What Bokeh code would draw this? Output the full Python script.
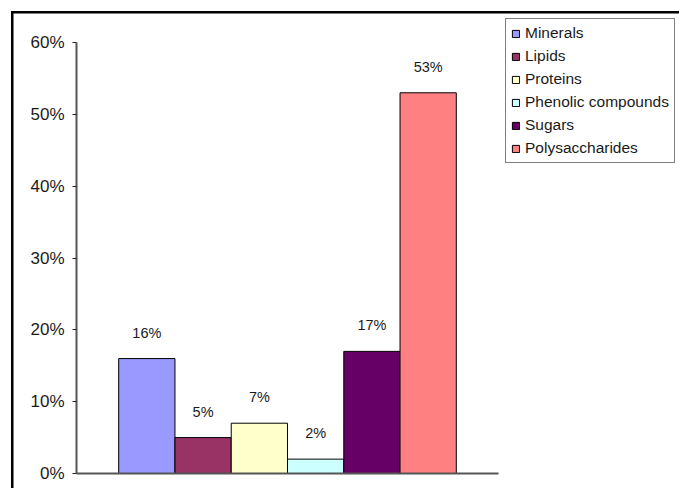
from bokeh.plotting import figure
from bokeh.models import (Range1d, FixedTicker, NumeralTickFormatter, Legend, LegendItem,
                          ColumnDataSource)
from bokeh.embed import file_html
from bokeh.resources import INLINE
from bokeh.core.properties import value

categories = ["Minerals", "Lipids", "Proteins", "Phenolic compounds", "Sugars", "Polysaccharides"]
shares = [0.16, 0.05, 0.07, 0.02, 0.17, 0.53]
labels = ["16%", "5%", "7%", "2%", "17%", "53%"]
colors = ["#9999FF", "#993366", "#FFFFCC", "#CCFFFF", "#660066", "#FF8080"]
y_ticks = [0.0, 0.1, 0.2, 0.3, 0.4, 0.5, 0.6]

FONT = "Liberation Sans"

W, H = 679, 488
LEFT, BOTTOM = 76, 15          # frame left / bottom border in px
AXIS_W_PX = 422                # length of the x axis line
AXIS_H_PX = 431                # length of the y axis line (0% .. 60%)
X_AXIS_END = 7.5
Y_AXIS_END = 0.6
frame_w = W - LEFT
frame_h = H - BOTTOM

p = figure(width=W, height=H, output_backend="svg", toolbar_location=None,
           x_range=Range1d(0, X_AXIS_END * frame_w / AXIS_W_PX),
           y_range=Range1d(0, Y_AXIS_END * frame_h / AXIS_H_PX),
           min_border_left=LEFT, min_border_right=0, min_border_top=0, min_border_bottom=BOTTOM)
p.outline_line_color = None
p.grid.visible = False
p.background_fill_alpha = 0
p.border_fill_alpha = 0
p.styles = {
    "background-color": "white",
    "background-image": "linear-gradient(black, black), linear-gradient(black, black)",
    "background-size": "2.5px 100%, 100% 2.5px",
    "background-position": "11px 11px, 11px 11px",
    "background-repeat": "no-repeat",
}

xs = [1.25 + i for i in range(len(categories))]
items = []
for i, (cat, v, c) in enumerate(zip(categories, shares, colors)):
    r = p.vbar(x=xs[i], top=v, bottom=0, width=1.0, fill_color=c, line_color="black", line_width=1)
    items.append(LegendItem(label=cat, renderers=[r]))

src = ColumnDataSource(dict(x=xs, y=shares, t=labels))
p.text(x="x", y="y", text="t", source=src, text_align="center", text_baseline="middle",
       y_offset=-26, text_font=value(FONT), text_font_size="14.5px", text_color="#1a1a1a")

# y axis
p.yaxis.ticker = FixedTicker(ticks=y_ticks)
p.yaxis.bounds = (0, Y_AXIS_END)
p.yaxis.formatter = NumeralTickFormatter(format="0%")
p.yaxis.major_label_text_font = FONT
p.yaxis.major_label_text_font_size = "17px"
p.yaxis.major_label_text_color = "#1a1a1a"
p.yaxis.axis_line_color = "#555555"
p.yaxis.axis_line_width = 2
p.yaxis.major_tick_line_color = "#222222"
p.yaxis.major_tick_out = 4
p.yaxis.major_tick_in = 0
p.yaxis.minor_tick_line_color = None
p.yaxis.major_label_standoff = 8

# x axis: line only
p.xaxis.ticker = FixedTicker(ticks=[])
p.xaxis.bounds = (0, X_AXIS_END)
p.xaxis.axis_line_color = "#555555"
p.xaxis.axis_line_width = 2
p.xaxis.major_tick_line_color = None
p.xaxis.minor_tick_line_color = None
p.xaxis.major_label_text_font_size = "0px"

legend = Legend(items=items, location=(429, 310), orientation="vertical",
                label_text_font=FONT, label_text_font_size="15.5px", label_text_color="#1a1a1a",
                glyph_width=9, glyph_height=9, label_standoff=5, spacing=5, padding=5, margin=0,
                border_line_color="black", border_line_width=1, background_fill_color="white",
                background_fill_alpha=1)
p.add_layout(legend, "center")

open("out.html", "w").write(file_html(p, INLINE))
